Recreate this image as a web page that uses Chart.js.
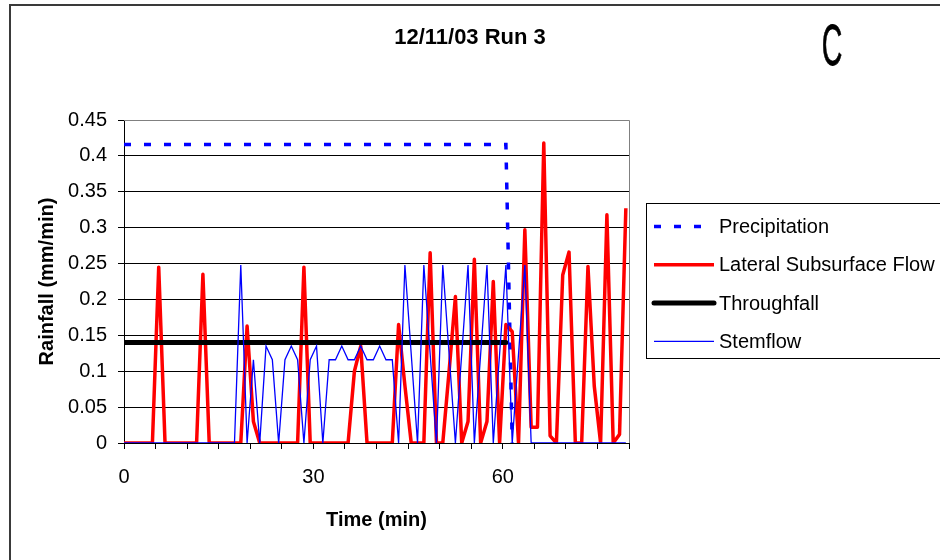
<!DOCTYPE html>
<html>
<head>
<meta charset="utf-8">
<script src="https://cdn.jsdelivr.net/npm/chart.js@4.4.1/dist/chart.umd.min.js"></script>
<style>
html,body{margin:0;padding:0;background:#fff;}
#wrap{width:940px;height:560px;position:relative;}
</style>
</head>
<body>
<div id="wrap"><canvas id="c" width="940" height="560"></canvas></div>
<script>
const chartTitle = '12/11/03 Run 3';
const panelLetter = 'C';
const xAxisTitle = 'Time (min)';
const yAxisTitle = 'Rainfall (mm/min)';
const seriesNames = ['Precipitation', 'Lateral Subsurface Flow', 'Throughfall', 'Stemflow'];
const xTickLabels = [0, 30, 60];

// time (min)
const times = [0, 0.5, 1.5, 2.5, 3.5, 4.5, 5.5, 6.5, 7.5, 8.5,
  9.5, 10.5, 11.5, 12.5, 13.5, 14.5, 15.5, 16.5, 17.5, 18.5,
  19.5, 20.5, 21.5, 22.5, 23.5, 24.5, 25.5, 26.5, 27.5, 28.5,
  29.5, 30.5, 31.5, 32.5, 33.5, 34.5, 35.5, 36.5, 37.5, 38.5,
  39.5, 40.5, 41.5, 42.5, 43.5, 44.5, 45.5, 46.5, 47.5, 48.5,
  49.5, 50.5, 51.5, 52.5, 53.5, 54.5, 55.5, 56.5, 57.5, 58.5,
  59.5, 60.5, 61.5, 62.5, 63.5, 64.5, 65.5, 66.5, 67.5, 68.5,
  69.5, 70.5, 71.5, 72.5, 73.5, 74.5, 75.5, 76.5, 77.5, 78.5,
  79.5];

const precipitation = [0.416, 0.416, 0.416, 0.416, 0.416, 0.416, 0.416, 0.416, 0.416, 0.416,
  0.416, 0.416, 0.416, 0.416, 0.416, 0.416, 0.416, 0.416, 0.416, 0.416,
  0.416, 0.416, 0.416, 0.416, 0.416, 0.416, 0.416, 0.416, 0.416, 0.416,
  0.416, 0.416, 0.416, 0.416, 0.416, 0.416, 0.416, 0.416, 0.416, 0.416,
  0.416, 0.416, 0.416, 0.416, 0.416, 0.416, 0.416, 0.416, 0.416, 0.416,
  0.416, 0.416, 0.416, 0.416, 0.416, 0.416, 0.416, 0.416, 0.416, 0.416,
  0.416, 0.416, 0, null, null, null, null, null, null, null,
  null, null, null, null, null, null, null, null, null, null,
  null];

const lateralFlow = [0, 0, 0, 0, 0, 0, 0.245, 0, 0, 0,
  0, 0, 0, 0.235, 0, 0, 0, 0, 0, 0,
  0.163, 0.03, 0, 0, 0, 0, 0, 0, 0, 0.245,
  0, 0, 0, 0, 0, 0, 0, 0.1, 0.135, 0,
  0, 0, 0, 0, 0.165, 0.08, 0, 0, 0, 0.265,
  0, 0, 0.1, 0.204, 0, 0.03, 0.256, 0, 0.03, 0.225,
  0, 0.165, 0.155, 0, 0.297, 0.022, 0.022, 0.418, 0.01, 0,
  0.234, 0.266, 0, 0, 0.246, 0.079, 0, 0.318, 0, 0.012,
  0.327];

const throughfall = [0.14, 0.14, 0.14, 0.14, 0.14, 0.14, 0.14, 0.14, 0.14, 0.14,
  0.14, 0.14, 0.14, 0.14, 0.14, 0.14, 0.14, 0.14, 0.14, 0.14,
  0.14, 0.14, 0.14, 0.14, 0.14, 0.14, 0.14, 0.14, 0.14, 0.14,
  0.14, 0.14, 0.14, 0.14, 0.14, 0.14, 0.14, 0.14, 0.14, 0.14,
  0.14, 0.14, 0.14, 0.14, 0.14, 0.14, 0.14, 0.14, 0.14, 0.14,
  0.14, 0.14, 0.14, 0.14, 0.14, 0.14, 0.14, 0.14, 0.14, 0.14,
  0.14, 0.14, null, null, null, null, null, null, null, null,
  null, null, null, null, null, null, null, null, null, null,
  null];

const stemflow = [0, 0, 0, 0, 0, 0, 0, 0, 0, 0,
  0, 0, 0, 0, 0, 0, 0, 0, 0, 0.248,
  0, 0.116, 0, 0.135, 0.116, 0, 0.116, 0.135, 0.116, 0,
  0.116, 0.135, 0, 0.116, 0.116, 0.135, 0.116, 0.116, 0.135, 0.116,
  0.116, 0.135, 0.116, 0.116, 0, 0.248, 0.124, 0, 0.248, 0.124,
  0, 0.248, 0.124, 0, 0.124, 0.248, 0, 0.124, 0.248, 0,
  0.124, 0.248, 0, 0.124, 0.248, 0, 0, 0, 0, 0,
  0, 0, 0, 0, 0, 0, 0, 0, 0, 0,
  0];

const FONT = '"Liberation Sans", Arial, Helvetica, sans-serif';
const pts = arr => times.map((t, i) => ({x: t, y: arr[i]}));

const decor = {
  id: 'decor',
  beforeDraw(chart) {
    const ctx = chart.ctx;
    ctx.save();
    ctx.fillStyle = '#ffffff';
    ctx.fillRect(0, 0, chart.width, chart.height);
    ctx.restore();
  },
  afterDraw(chart) {
    const ctx = chart.ctx, a = chart.chartArea;
    ctx.save();
    // plot area border (top / right)
    ctx.strokeStyle = '#808080';
    ctx.lineWidth = 1;
    ctx.beginPath();
    ctx.moveTo(a.left, Math.round(a.top) + 0.5);
    ctx.lineTo(Math.round(a.right) + 0.5, Math.round(a.top) + 0.5);
    ctx.lineTo(Math.round(a.right) + 0.5, a.bottom);
    ctx.stroke();

    // outer frame
    ctx.strokeStyle = '#3a3a3a';
    ctx.lineWidth = 2;
    ctx.beginPath();
    ctx.moveTo(10, chart.height);
    ctx.lineTo(10, 5);
    ctx.lineTo(chart.width, 5);
    ctx.stroke();

    // title
    ctx.fillStyle = '#000';
    ctx.textAlign = 'center';
    ctx.textBaseline = 'middle';
    ctx.font = 'bold 22px ' + FONT;
    ctx.fillText(chartTitle, chart.width / 2, 38);

    // panel letter
    ctx.save();
    ctx.translate(832, 45);
    ctx.scale(0.5, 1);
    ctx.textBaseline = 'alphabetic';
    ctx.font = '57px ' + FONT;
    ctx.fillText(panelLetter, 0, 20);
    ctx.lineWidth = 0.8;
    ctx.strokeStyle = '#000';
    ctx.strokeText(panelLetter, 0, 20);
    ctx.restore();

    // legend
    const lx = 646, ly = 203, lw = 320, lh = 155;
    ctx.fillStyle = '#fff';
    ctx.fillRect(lx, ly, lw, lh);
    ctx.strokeStyle = '#000';
    ctx.lineWidth = 1;
    ctx.strokeRect(lx + 0.5, ly + 0.5, lw, lh);
    chart.data.datasets.forEach((ds, i) => {
      const y = 226.5 + i * 38.3;
      ctx.save();
      ctx.strokeStyle = ds.borderColor;
      ctx.lineWidth = ds.borderWidth;
      ctx.setLineDash(ds.borderDash || []);
      ctx.lineCap = ds.borderCapStyle || 'butt';
      ctx.beginPath();
      ctx.moveTo(654, y);
      ctx.lineTo(714, y);
      ctx.stroke();
      ctx.restore();
      ctx.fillStyle = '#000';
      ctx.textAlign = 'left';
      ctx.textBaseline = 'middle';
      ctx.font = '20px ' + FONT;
      ctx.fillText(ds.label, 719, y + 1);
    });
    ctx.restore();
  }
};

new Chart(document.getElementById('c'), {
  type: 'line',
  data: {
    datasets: [
      {label: seriesNames[0], data: pts(precipitation), borderColor: '#0000FF', borderWidth: 3.5,
       borderDash: [7, 13], borderCapStyle: 'butt', pointRadius: 0, tension: 0, fill: false, order: 4, spanGaps: false},
      {label: seriesNames[1], data: pts(lateralFlow), borderColor: '#FF0000', borderWidth: 3.5,
       borderJoinStyle: 'round', pointRadius: 0, tension: 0, fill: false, order: 3},
      {label: seriesNames[2], data: pts(throughfall), borderColor: '#000000', borderWidth: 5,
       borderCapStyle: 'round', pointRadius: 0, tension: 0, fill: false, order: 2, spanGaps: false},
      {label: seriesNames[3], data: pts(stemflow), borderColor: '#0000FF', borderWidth: 1.3,
       pointRadius: 0, tension: 0, fill: false, order: 1}
    ]
  },
  options: {
    responsive: false,
    animation: false,
    devicePixelRatio: 1,
    layout: {padding: {top: 120, right: 311, bottom: 0, left: 0}},
    plugins: {legend: {display: false}, title: {display: false}, tooltip: {enabled: false}},
    scales: {
      x: {
        type: 'linear', min: 0, max: 80,
        ticks: {stepSize: 5, autoSkip: false, maxRotation: 0, padding: 16, color: '#000',
                font: {family: FONT, size: 20},
                callback: v => xTickLabels.includes(v) ? String(v) : ''},
        grid: {drawOnChartArea: false, drawTicks: true, tickLength: 6, color: '#000'},
        border: {display: true, color: '#000', width: 1},
        title: {display: true, text: xAxisTitle, color: '#000',
                font: {family: FONT, size: 20, weight: 'bold'}, padding: {top: 0, bottom: 28}},
        afterFit(s) { s.height = 117; }
      },
      y: {
        min: 0, max: 0.45,
        ticks: {stepSize: 0.05, padding: 11, color: '#000', font: {family: FONT, size: 20},
                callback: v => String(+Number(v).toFixed(2))},
        grid: {color: c => (c.tick && Math.abs(c.tick.value - 0.45) < 1e-9) ? '#808080' : '#000',
               tickColor: '#000', tickLength: 6, lineWidth: 1},
        border: {display: true, color: '#000', width: 1},
        title: {display: true, text: yAxisTitle, color: '#000',
                font: {family: FONT, size: 20, weight: 'bold'}, padding: {top: 35, bottom: 0}},
        afterFit(s) { s.width = 124; }
      }
    }
  },
  plugins: [decor]
});
</script>
</body>
</html>
